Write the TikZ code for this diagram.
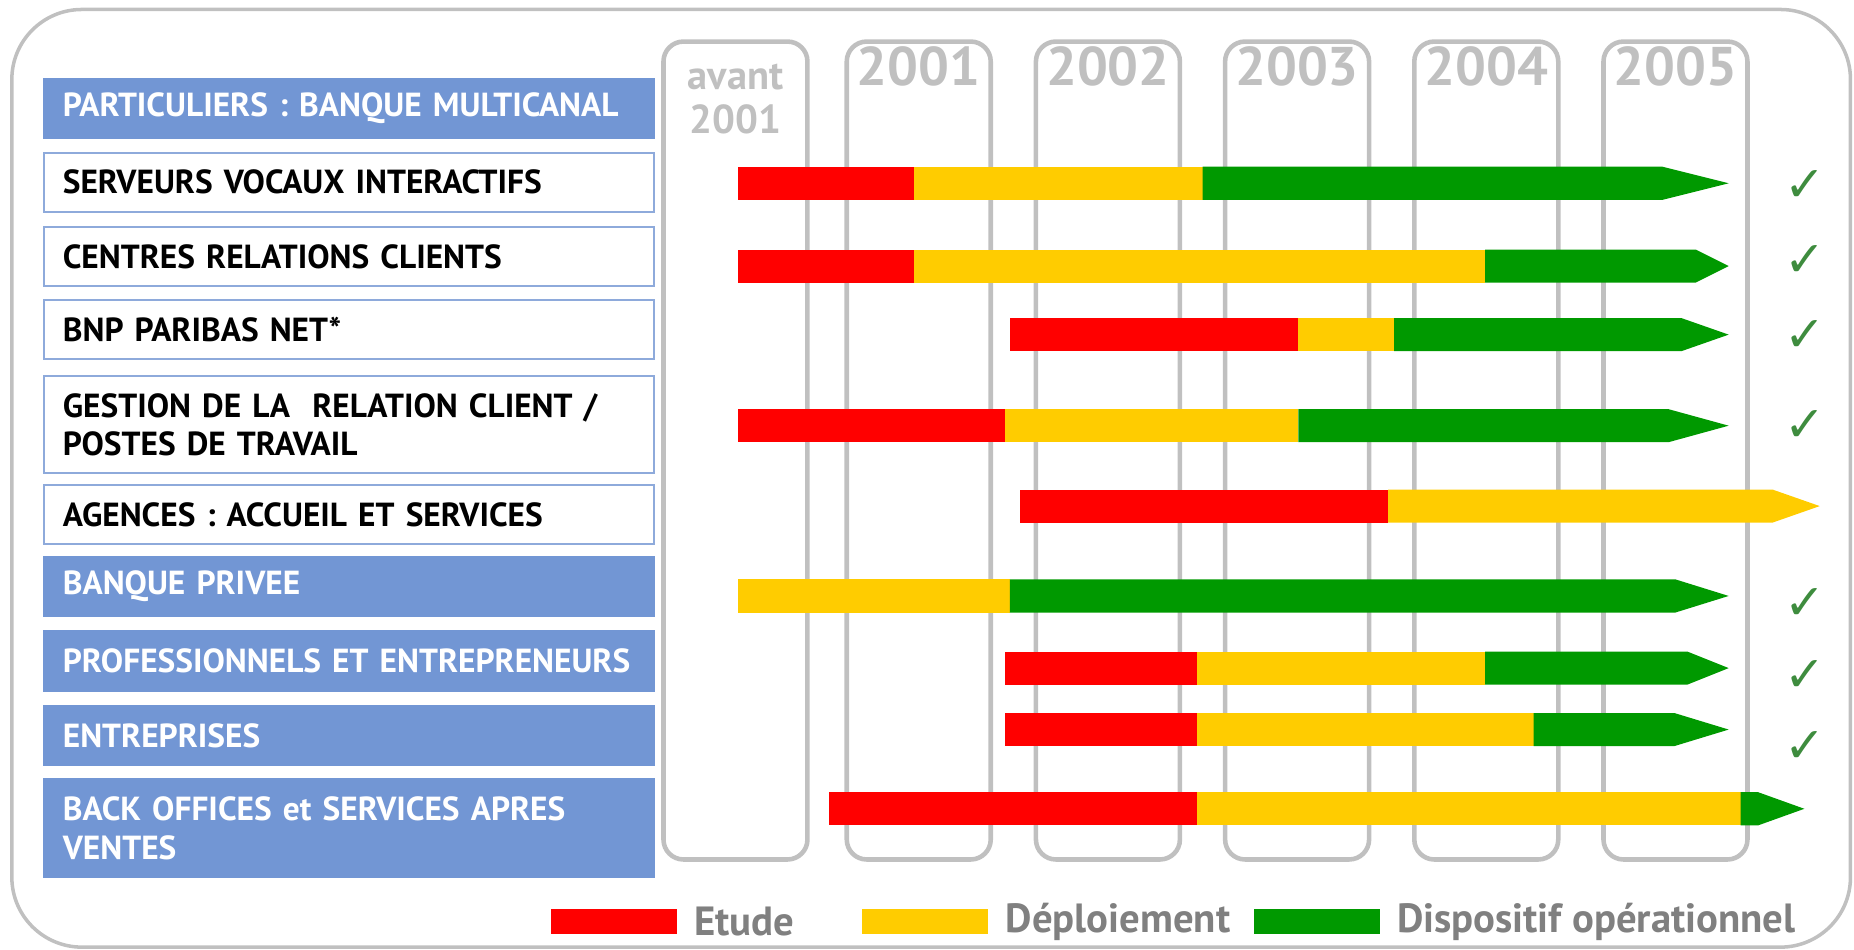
\documentclass[tikz,border=0pt]{standalone}
\usepackage{fontspec}
\setmainfont{PT Sans}
\newfontfamily\symfont{DejaVu Sans}
\usetikzlibrary{positioning}
\definecolor{etudecolor}{RGB}{255, 0, 0}
\definecolor{deploycolor}{RGB}{255, 204, 0}
\definecolor{opercolor}{RGB}{0, 153, 0}
\definecolor{headcolor}{RGB}{114, 150, 212}
\definecolor{edgecolor}{RGB}{142, 170, 219}
\definecolor{framecolor}{RGB}{192, 192, 192}
\definecolor{legendgray}{RGB}{128, 128, 128}
\definecolor{checkcolor}{RGB}{62, 140, 62}

% text of the row boxes, never hyphenated
\newcommand{\rowfont}{\fontsize{9.5}{10.9}\selectfont\bfseries\hyphenpenalty=10000\relax}
% one piece of a bar: colour, row, from, to
\newcommand{\barpart}[4]{\fill[#1] (#3,#2-14) rectangle (#4,#2+14);}
% last piece of a bar with its point: colour, row, from, point start, tip
\newcommand{\barhead}[5]{\fill[#1] (#3,#2-14) -- (#4,#2-14) -- (#5,#2) -- (#4,#2+14) -- (#3,#2+14) -- cycle;}

\begin{document}
\begin{tikzpicture}[
        x=0.011824cm, y=-0.011824cm,
        frame/.style={draw=framecolor, line width=1pt, rounded corners=0.7cm},
        yearcol/.style={rectangle, draw=framecolor, line width=1.3pt, rounded corners=0.2cm, minimum width=1.44cm, minimum height=8.18cm},
        yeartext/.style={font=\fontsize{15.5}{15.5}\selectfont\bfseries, text=framecolor, inner sep=0pt},
        rowbox/.style={rectangle, draw=edgecolor, line width=0.6pt, fill=white, minimum width=6.1cm, minimum height=0.59cm, text width=5.72cm, inner xsep=0.19cm, align=left, font=\rowfont},
        grouprow/.style={rowbox, draw=headcolor, fill=headcolor, text=white},
        check/.style={font=\symfont\bfseries\fontsize{14}{14}\selectfont, text=checkcolor},
        legendbox/.style={rectangle, minimum width=1.26cm, minimum height=0.25cm, inner sep=0pt},
        legendlabel/.style={font=\fontsize{11.6}{12}\selectfont\bfseries, text=legendgray, inner sep=0pt}
    ]
        \useasboundingbox (0,0) rectangle (1568,803);

        % Frame
        \draw[frame] (10,8) rectangle (1565,801);

        % Year columns
        \node[yearcol] (c2000) at (622,381) {};
        \node[yearcol] (c2001) at (777,381) {};
        \node[yearcol] (c2002) at (937,381) {};
        \node[yearcol] (c2003) at (1097,381) {};
        \node[yearcol] (c2004) at (1257,381) {};
        \node[yearcol] (c2005) at (1417,381) {};
        \node[yeartext, font=\fontsize{11.5}{12.5}\selectfont\bfseries, align=center, below=0.24cm of c2000.north] {avant\\2001};
        \node[yeartext, below=0.07cm of c2001.north] {2001};
        \node[yeartext, below=0.07cm of c2002.north] {2002};
        \node[yeartext, below=0.07cm of c2003.north] {2003};
        \node[yeartext, below=0.07cm of c2004.north] {2004};
        \node[yeartext, below=0.07cm of c2005.north] {2005};

        % Rows
        \node[grouprow] (particuliers) at (295,91.5) {PARTICULIERS : BANQUE MULTICANAL};
        \node[rowbox] (serveurs) at (295,154) {SERVEURS VOCAUX INTERACTIFS};
        \node[rowbox] (centres) at (295,217) {CENTRES RELATIONS CLIENTS};
        \node[rowbox] (bnpnet) at (295,279) {BNP PARIBAS NET*};
        \node[rowbox, minimum height=0.97cm] (gestion) at (295,359) {GESTION DE LA ~RELATION CLIENT /\\POSTES DE TRAVAIL};
        \node[rowbox] (agences) at (295,435) {AGENCES : ACCUEIL ET SERVICES};
        \node[grouprow] (privee) at (295,496) {BANQUE PRIVEE};
        \node[grouprow] (pros) at (295,559) {PROFESSIONNELS ET ENTREPRENEURS};
        \node[grouprow] (entreprises) at (295,622) {ENTREPRISES};
        \node[grouprow, minimum height=0.98cm] (backoffice) at (295,700.5) {BACK OFFICES et SERVICES APRES\\VENTES};

        % Bars
        \barpart{etudecolor}{155}{624}{773}
        \barpart{deploycolor}{155}{773}{1017}
        \barhead{opercolor}{155}{1017}{1406}{1462}

        \barpart{etudecolor}{225}{624}{773}
        \barpart{deploycolor}{225}{773}{1256}
        \barhead{opercolor}{225}{1256}{1434}{1462}

        \barpart{etudecolor}{283}{854}{1098}
        \barpart{deploycolor}{283}{1098}{1179}
        \barhead{opercolor}{283}{1179}{1422}{1462}

        \barpart{etudecolor}{360}{624}{850}
        \barpart{deploycolor}{360}{850}{1098}
        \barhead{opercolor}{360}{1098}{1411}{1462}

        \barpart{etudecolor}{428}{863}{1174}
        \barhead{deploycolor}{428}{1174}{1499}{1539}

        \barpart{deploycolor}{504}{624}{854}
        \barhead{opercolor}{504}{854}{1417}{1462}

        \barpart{etudecolor}{565}{850}{1012}
        \barpart{deploycolor}{565}{1012}{1256}
        \barhead{opercolor}{565}{1256}{1427}{1462}

        \barpart{etudecolor}{617}{850}{1012}
        \barpart{deploycolor}{617}{1012}{1297}
        \barhead{opercolor}{617}{1297}{1416}{1462}

        \barpart{etudecolor}{684}{701}{1012}
        \barpart{deploycolor}{684}{1012}{1472}
        \barhead{opercolor}{684}{1472}{1487}{1526}

        % Checks
        \node[check] (ok1) at (1527,157) {✓};
        \node[check] (ok2) at (1527,221) {✓};
        \node[check] (ok3) at (1527,284) {✓};
        \node[check] (ok4) at (1527,360) {✓};
        \node[check] (ok6) at (1527,511) {✓};
        \node[check] (ok7) at (1527,572) {✓};
        \node[check] (ok8) at (1527,632) {✓};

        % Legend
        \node[legendbox, fill=etudecolor] (legetude) at (519,779.5) {};
        \node[legendlabel, right=0.16cm of legetude] {Etude};
        \node[legendbox, fill=deploycolor] (legdeploy) at (782.5,779.5) {};
        \node[legendlabel, right=0.16cm of legdeploy] {Déploiement};
        \node[legendbox, fill=opercolor] (legoper) at (1113.5,779.5) {};
        \node[legendlabel, right=0.16cm of legoper] {Dispositif opérationnel};

    \end{tikzpicture}
\end{document}
